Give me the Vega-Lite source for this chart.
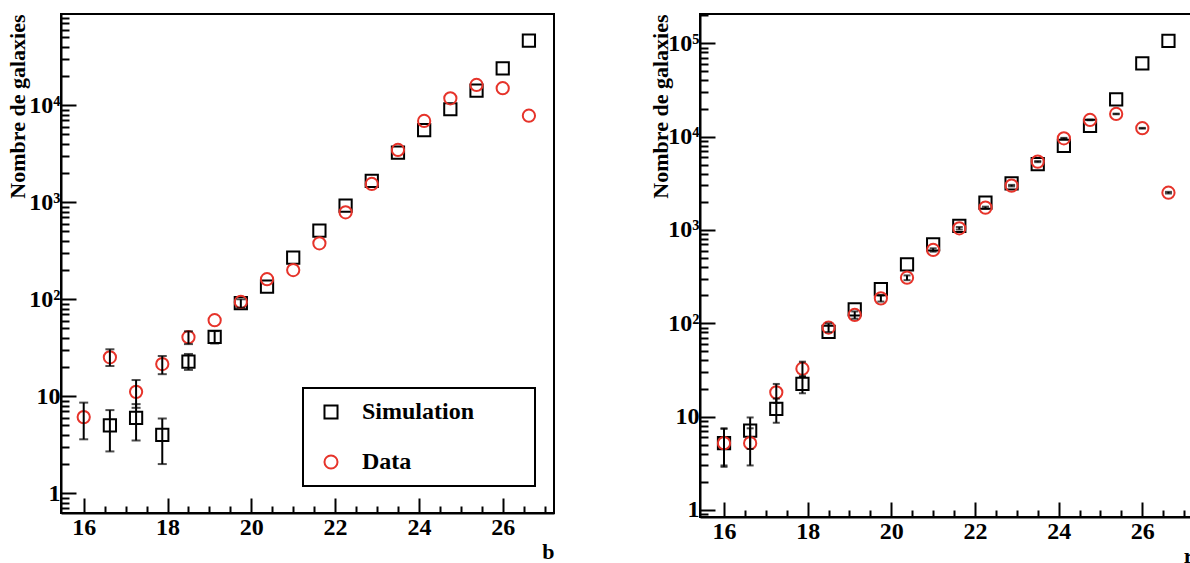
{
  "$schema": "https://vega.github.io/schema/vega-lite/v6.json",
  "padding": {"left": 5, "top": 13, "right": 0, "bottom": 0},
  "spacing": 93,
  "datasets": {
    "b": [
      {"mag": 16.625, "series": "Simulation", "n": 5.0, "lo": 2.7, "hi": 7.2},
      {"mag": 17.25, "series": "Simulation", "n": 6.0, "lo": 3.5, "hi": 8.3},
      {"mag": 17.875, "series": "Simulation", "n": 4.0, "lo": 2.0, "hi": 5.9},
      {"mag": 18.5, "series": "Simulation", "n": 22.7, "lo": 18.7, "hi": 27.3},
      {"mag": 19.125, "series": "Simulation", "n": 41, "lo": 35, "hi": 47},
      {"mag": 19.75, "series": "Simulation", "n": 91, "lo": 82, "hi": 100},
      {"mag": 20.375, "series": "Simulation", "n": 135, "lo": null, "hi": null},
      {"mag": 21.0, "series": "Simulation", "n": 268, "lo": null, "hi": null},
      {"mag": 21.625, "series": "Simulation", "n": 510, "lo": null, "hi": null},
      {"mag": 22.25, "series": "Simulation", "n": 923, "lo": null, "hi": null},
      {"mag": 22.875, "series": "Simulation", "n": 1660, "lo": null, "hi": null},
      {"mag": 23.5, "series": "Simulation", "n": 3250, "lo": null, "hi": null},
      {"mag": 24.125, "series": "Simulation", "n": 5560, "lo": null, "hi": null},
      {"mag": 24.75, "series": "Simulation", "n": 9100, "lo": null, "hi": null},
      {"mag": 25.375, "series": "Simulation", "n": 14150, "lo": null, "hi": null},
      {"mag": 26.0, "series": "Simulation", "n": 24000, "lo": null, "hi": null},
      {"mag": 26.625, "series": "Simulation", "n": 46300, "lo": null, "hi": null},
      {"mag": 16.0, "series": "Data", "n": 6.1, "lo": 3.6, "hi": 8.6},
      {"mag": 16.625, "series": "Data", "n": 25.2, "lo": 20.5, "hi": 30.5},
      {"mag": 17.25, "series": "Data", "n": 11.1, "lo": 7.6, "hi": 14.7},
      {"mag": 17.875, "series": "Data", "n": 21.5, "lo": 16.9, "hi": 26.0},
      {"mag": 18.5, "series": "Data", "n": 40.6, "lo": 34.5, "hi": 46.7},
      {"mag": 19.125, "series": "Data", "n": 60.8, "lo": null, "hi": null},
      {"mag": 19.75, "series": "Data", "n": 93.8, "lo": null, "hi": null},
      {"mag": 20.375, "series": "Data", "n": 161, "lo": null, "hi": null},
      {"mag": 21.0, "series": "Data", "n": 200, "lo": null, "hi": null},
      {"mag": 21.625, "series": "Data", "n": 378, "lo": null, "hi": null},
      {"mag": 22.25, "series": "Data", "n": 789, "lo": null, "hi": null},
      {"mag": 22.875, "series": "Data", "n": 1545, "lo": null, "hi": null},
      {"mag": 23.5, "series": "Data", "n": 3460, "lo": null, "hi": null},
      {"mag": 24.125, "series": "Data", "n": 6890, "lo": null, "hi": null},
      {"mag": 24.75, "series": "Data", "n": 11800, "lo": null, "hi": null},
      {"mag": 25.375, "series": "Data", "n": 16200, "lo": null, "hi": null},
      {"mag": 26.0, "series": "Data", "n": 15000, "lo": null, "hi": null},
      {"mag": 26.625, "series": "Data", "n": 7810, "lo": null, "hi": null}
    ],
    "r": [
      {"mag": 16.0, "series": "Simulation", "n": 5.2, "lo": 2.9, "hi": 7.4},
      {"mag": 16.625, "series": "Simulation", "n": 7.1, "lo": 4.5, "hi": 9.8},
      {"mag": 17.25, "series": "Simulation", "n": 12.1, "lo": 8.6, "hi": 15.6},
      {"mag": 17.875, "series": "Simulation", "n": 22.4, "lo": 17.8, "hi": 27.0},
      {"mag": 18.5, "series": "Simulation", "n": 80.7, "lo": null, "hi": null},
      {"mag": 19.125, "series": "Simulation", "n": 141, "lo": null, "hi": null},
      {"mag": 19.75, "series": "Simulation", "n": 232, "lo": null, "hi": null},
      {"mag": 20.375, "series": "Simulation", "n": 429, "lo": null, "hi": null},
      {"mag": 21.0, "series": "Simulation", "n": 702, "lo": null, "hi": null},
      {"mag": 21.625, "series": "Simulation", "n": 1104, "lo": null, "hi": null},
      {"mag": 22.25, "series": "Simulation", "n": 1963, "lo": null, "hi": null},
      {"mag": 22.875, "series": "Simulation", "n": 3162, "lo": null, "hi": null},
      {"mag": 23.5, "series": "Simulation", "n": 5060, "lo": null, "hi": null},
      {"mag": 24.125, "series": "Simulation", "n": 7945, "lo": null, "hi": null},
      {"mag": 24.75, "series": "Simulation", "n": 13000, "lo": null, "hi": null},
      {"mag": 25.375, "series": "Simulation", "n": 25100, "lo": null, "hi": null},
      {"mag": 26.0, "series": "Simulation", "n": 61100, "lo": null, "hi": null},
      {"mag": 26.625, "series": "Simulation", "n": 106000, "lo": null, "hi": null},
      {"mag": 16.0, "series": "Data", "n": 5.2, "lo": 3.0, "hi": 7.5},
      {"mag": 16.625, "series": "Data", "n": 5.2, "lo": 3.0, "hi": 7.5},
      {"mag": 17.25, "series": "Data", "n": 18.2, "lo": 14.0, "hi": 22.4},
      {"mag": 17.875, "series": "Data", "n": 32.6, "lo": 26.9, "hi": 38.8},
      {"mag": 18.5, "series": "Data", "n": 90, "lo": 80.5, "hi": 99.5},
      {"mag": 19.125, "series": "Data", "n": 123, "lo": 112, "hi": 134},
      {"mag": 19.75, "series": "Data", "n": 185, "lo": 171, "hi": 199},
      {"mag": 20.375, "series": "Data", "n": 308, "lo": 290, "hi": 326},
      {"mag": 21.0, "series": "Data", "n": 611, "lo": 586, "hi": 636},
      {"mag": 21.625, "series": "Data", "n": 1043, "lo": 1011, "hi": 1075},
      {"mag": 22.25, "series": "Data", "n": 1735, "lo": 1693, "hi": 1777},
      {"mag": 22.875, "series": "Data", "n": 2985, "lo": 2930, "hi": 3040},
      {"mag": 23.5, "series": "Data", "n": 5400, "lo": 5327, "hi": 5473},
      {"mag": 24.125, "series": "Data", "n": 9600, "lo": 9502, "hi": 9698},
      {"mag": 24.75, "series": "Data", "n": 15100, "lo": 14977, "hi": 15223},
      {"mag": 25.375, "series": "Data", "n": 17500, "lo": 17368, "hi": 17632},
      {"mag": 26.0, "series": "Data", "n": 12300, "lo": 12189, "hi": 12411},
      {"mag": 26.625, "series": "Data", "n": 2510, "lo": 2460, "hi": 2560}
    ]
  },
  "hconcat": [
    {
      "width": 493,
      "height": 499,
      "data": {"name": "b"},
      "resolve": {"axis": {"x": "independent", "y": "independent"}},
      "layer": [
        {
          "mark": {"type": "point", "filled": false, "size": 150, "strokeWidth": 2, "opacity": 1},
          "encoding": {
            "x": {"field": "mag", "type": "quantitative",
              "scale": {"domain": [15.458, 27.224], "nice": false, "zero": false},
              "axis": {"orient": "bottom", "values": [16, 18, 20, 22, 24, 26], "format": "d", "tickSize": -15, "labelPadding": 17, "title": "b", "titleX": 493, "titleY": 45, "titleAlign": "right", "titleBaseline": "alphabetic"}},
            "y": {"field": "n", "type": "quantitative",
              "scale": {"type": "log", "domain": [0.626, 87300], "nice": false},
              "axis": {"orient": "left", "values": [1, 10, 100, 1000, 10000], "tickSize": -15, "labelPadding": 16,
                "labelExpr": "datum.value < 5 ? '1' : datum.value < 50 ? '10' : datum.value < 500 ? '10²' : datum.value < 5000 ? '10³' : datum.value < 50000 ? '10⁴' : '10⁵'",
                "title": "Nombre de galaxies", "titleAngle": 270, "titleX": -37, "titleY": 0, "titleAlign": "right", "titleBaseline": "alphabetic"}},
            "shape": {"field": "series", "type": "nominal", "scale": {"domain": ["Simulation", "Data"], "range": ["square", "circle"]},
              "legend": {"title": null, "orient": "none", "legendX": 242, "legendY": 374, "labelExpr": "datum.label + '\u00a0\u00a0\u00a0\u00a0\u00a0\u00a0\u00a0\u00a0\u200b'"}},
            "stroke": {"field": "series", "type": "nominal", "scale": {"domain": ["Simulation", "Data"], "range": ["#000000", "#e6332a"]},
              "legend": {"title": null, "orient": "none", "legendX": 242, "legendY": 374, "labelExpr": "datum.label + '\u00a0\u00a0\u00a0\u00a0\u00a0\u00a0\u00a0\u00a0\u200b'"}}
          }
        },
        {
          "mark": {"type": "rule", "color": "black", "strokeWidth": 2},
          "encoding": {
            "x": {"field": "mag", "type": "quantitative",
              "scale": {"domain": [15.458, 27.224], "nice": false, "zero": false},
              "axis": {"orient": "bottom", "values": [16.5, 17, 17.5, 18.5, 19, 19.5, 20.5, 21, 21.5, 22.5, 23, 23.5, 24.5, 25, 25.5, 26.5, 27], "tickSize": -7, "labels": false, "domain": false, "title": null}},
            "y": {"field": "lo", "type": "quantitative",
              "scale": {"type": "log", "domain": [0.626, 87300], "nice": false},
              "axis": {"orient": "left", "values": [0.7, 0.8, 0.9, 2, 3, 4, 5, 6, 7, 8, 9, 20, 30, 40, 50, 60, 70, 80, 90, 200, 300, 400, 500, 600, 700, 800, 900, 2000, 3000, 4000, 5000, 6000, 7000, 8000, 9000, 20000, 30000, 40000, 50000, 60000, 70000, 80000], "tickSize": -8, "labels": false, "domain": false, "title": null}},
            "y2": {"field": "hi"}
          }
        },
        {
          "mark": {"type": "tick", "orient": "horizontal", "color": "black", "size": 9, "thickness": 2},
          "encoding": {
            "x": {"field": "mag", "type": "quantitative", "scale": {"domain": [15.458, 27.224], "nice": false, "zero": false}, "axis": null},
            "y": {"field": "lo", "type": "quantitative", "scale": {"type": "log", "domain": [0.626, 87300], "nice": false}, "axis": null}
          }
        },
        {
          "mark": {"type": "tick", "orient": "horizontal", "color": "black", "size": 9, "thickness": 2},
          "encoding": {
            "x": {"field": "mag", "type": "quantitative", "scale": {"domain": [15.458, 27.224], "nice": false, "zero": false}, "axis": null},
            "y": {"field": "hi", "type": "quantitative", "scale": {"type": "log", "domain": [0.626, 87300], "nice": false}, "axis": null}
          }
        }
      ]
    },
    {
      "width": 493,
      "height": 503,
      "data": {"name": "r"},
      "resolve": {"axis": {"x": "independent", "y": "independent"}},
      "layer": [
        {
          "mark": {"type": "point", "filled": false, "size": 150, "strokeWidth": 2, "opacity": 1},
          "encoding": {
            "x": {"field": "mag", "type": "quantitative",
              "scale": {"domain": [15.426, 27.212], "nice": false, "zero": false},
              "axis": {"orient": "bottom", "values": [16, 18, 20, 22, 24, 26], "format": "d", "tickSize": -15, "labelPadding": 17, "title": "r", "titleX": 493, "titleY": 45, "titleAlign": "right", "titleBaseline": "alphabetic"}},
            "y": {"field": "n", "type": "quantitative",
              "scale": {"type": "log", "domain": [0.841, 206000], "nice": false},
              "axis": {"orient": "left", "values": [1, 10, 100, 1000, 10000, 100000], "tickSize": -15, "labelPadding": 16,
                "labelExpr": "datum.value < 5 ? '1' : datum.value < 50 ? '10' : datum.value < 500 ? '10²' : datum.value < 5000 ? '10³' : datum.value < 50000 ? '10⁴' : '10⁵'",
                "title": "Nombre de galaxies", "titleAngle": 270, "titleX": -33, "titleY": 0, "titleAlign": "right", "titleBaseline": "alphabetic"}},
            "shape": {"field": "series", "type": "nominal", "scale": {"domain": ["Simulation", "Data"], "range": ["square", "circle"]}},
            "stroke": {"field": "series", "type": "nominal", "scale": {"domain": ["Simulation", "Data"], "range": ["#000000", "#e6332a"]}}
          }
        },
        {
          "mark": {"type": "rule", "color": "black", "strokeWidth": 2},
          "encoding": {
            "x": {"field": "mag", "type": "quantitative",
              "scale": {"domain": [15.426, 27.212], "nice": false, "zero": false},
              "axis": {"orient": "bottom", "values": [16.5, 17, 17.5, 18.5, 19, 19.5, 20.5, 21, 21.5, 22.5, 23, 23.5, 24.5, 25, 25.5, 26.5, 27], "tickSize": -7, "labels": false, "domain": false, "title": null}},
            "y": {"field": "lo", "type": "quantitative",
              "scale": {"type": "log", "domain": [0.841, 206000], "nice": false},
              "axis": {"orient": "left", "values": [0.9, 2, 3, 4, 5, 6, 7, 8, 9, 20, 30, 40, 50, 60, 70, 80, 90, 200, 300, 400, 500, 600, 700, 800, 900, 2000, 3000, 4000, 5000, 6000, 7000, 8000, 9000, 20000, 30000, 40000, 50000, 60000, 70000, 80000, 90000, 200000], "tickSize": -8, "labels": false, "domain": false, "title": null}},
            "y2": {"field": "hi"}
          }
        },
        {
          "mark": {"type": "tick", "orient": "horizontal", "color": "black", "size": 7, "thickness": 2},
          "encoding": {
            "x": {"field": "mag", "type": "quantitative", "scale": {"domain": [15.426, 27.212], "nice": false, "zero": false}, "axis": null},
            "y": {"field": "lo", "type": "quantitative", "scale": {"type": "log", "domain": [0.841, 206000], "nice": false}, "axis": null}
          }
        },
        {
          "mark": {"type": "tick", "orient": "horizontal", "color": "black", "size": 7, "thickness": 2},
          "encoding": {
            "x": {"field": "mag", "type": "quantitative", "scale": {"domain": [15.426, 27.212], "nice": false, "zero": false}, "axis": null},
            "y": {"field": "hi", "type": "quantitative", "scale": {"type": "log", "domain": [0.841, 206000], "nice": false}, "axis": null}
          }
        }
      ]
    }
  ],
  "config": {
    "font": "Liberation Serif",
    "view": {"stroke": "black", "strokeWidth": 2},
    "axis": {
      "grid": false,
      "domainColor": "black",
      "domainWidth": 2,
      "tickColor": "black",
      "tickWidth": 2,
      "labelFont": "Liberation Serif",
      "labelFontWeight": "bold",
      "labelFontSize": 24,
      "labelColor": "black",
      "labelFlush": false,
      "labelOverlap": false,
      "titleFont": "Liberation Serif",
      "titleFontWeight": "bold",
      "titleFontSize": 22,
      "titleColor": "black"
    },
    "legend": {
      "strokeColor": "black",
      "strokeWidth": 2,
      "padding": 12,
      "rowPadding": 26,
      "labelFont": "Liberation Serif",
      "labelFontWeight": "bold",
      "labelFontSize": 24,
      "labelColor": "black",
      "labelOffset": 19,
      "symbolOffset": 4,
      "labelLimit": 400,
      "symbolSize": 170,
      "symbolStrokeWidth": 2
    }
  }
}
